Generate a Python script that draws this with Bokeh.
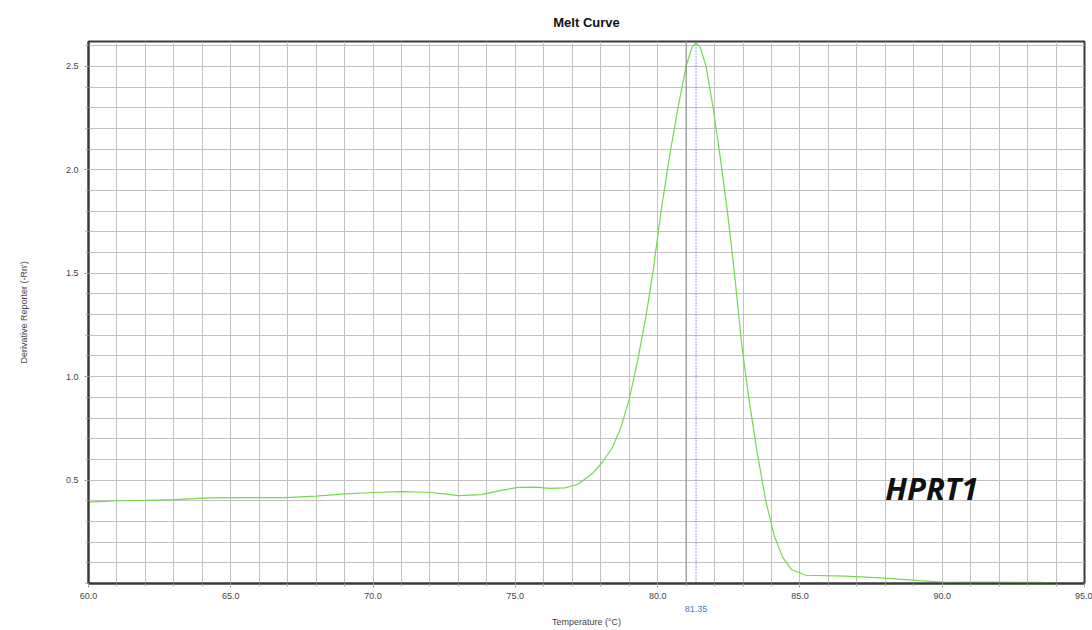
from bokeh.plotting import figure
from bokeh.models import (Range1d, FixedTicker, Span, Label, LinearAxis,
                          CustomJSTickFormatter)
from bokeh.embed import file_html
from bokeh.resources import INLINE

# Melt curve of the HPRT1 amplicon: derivative reporter (-Rn') vs temperature
temperature = [
    60.0, 61.0, 62.0, 63.0, 64.2, 65.5, 66.9, 68.0, 69.0, 70.0,
    71.0, 71.9, 72.5, 73.0, 73.8, 74.5, 75.1, 75.7, 76.2, 76.75,
    77.2, 77.7, 78.05, 78.4, 78.7, 79.0, 79.3, 79.6, 79.85, 80.1,
    80.4, 80.7, 81.0, 81.2, 81.35, 81.5, 81.7, 81.95, 82.2, 82.45,
    82.7, 82.95, 83.2, 83.5, 83.8, 84.1, 84.4, 84.7, 85.2, 86.6,
    87.8, 89.2, 90.1, 91.5, 93.4, 94.0,
]
derivative = [
    0.393, 0.400, 0.402, 0.405, 0.414, 0.415, 0.415, 0.422, 0.433, 0.440,
    0.444, 0.441, 0.433, 0.425, 0.430, 0.450, 0.465, 0.466, 0.460, 0.462,
    0.480, 0.530, 0.585, 0.655, 0.750, 0.890, 1.080, 1.300, 1.520, 1.780,
    2.050, 2.290, 2.500, 2.590, 2.615, 2.590, 2.500, 2.300, 2.060, 1.800,
    1.500, 1.160, 0.900, 0.630, 0.400, 0.230, 0.125, 0.068, 0.040, 0.036,
    0.027, 0.014, 0.006, 0.007, 0.005, 0.003,
]

melt_temp = 81.35
x_major = [60, 65, 70, 75, 80, 85, 90, 95]
x_minor = list(range(60, 96))
y_major = [0.5, 1.0, 1.5, 2.0, 2.5]
y_minor = [round(i * 0.1, 1) for i in range(0, 27)]
gene = "HPRT1"

p = figure(
    width=1092, height=630,
    x_range=Range1d(60, 95), y_range=Range1d(0, 2.62),
    output_backend="svg", toolbar_location=None,
    min_border_left=88, min_border_right=8,
    min_border_top=41, min_border_bottom=47,
    background_fill_color="white", border_fill_color="white",
)

p.title.text = "Melt Curve"
p.title.align = "center"
p.title.standoff = 24
p.title.text_font = "Liberation Sans"
p.title.text_font_size = "13px"
p.title.text_font_style = "bold"
p.title.text_color = "#111111"

# frame
p.outline_line_color = "#3a3a3a"
p.outline_line_width = 2

# grid: 1 degree / 0.1 units
p.xgrid.ticker = FixedTicker(ticks=x_minor)
p.ygrid.ticker = FixedTicker(ticks=y_minor)
for g in (p.xgrid, p.ygrid):
    g.grid_line_color = "#c2c2c2"
    g.grid_line_width = 1

one_decimal = CustomJSTickFormatter(code="return tick.toFixed(1);")
two_decimals = CustomJSTickFormatter(code="return tick.toFixed(2);")

def style_axis(ax):
    ax.axis_line_color = "#3a3a3a"
    ax.axis_line_width = 2
    ax.major_tick_line_color = "#999999"
    ax.minor_tick_line_color = "#aaaaaa"
    ax.major_tick_in = 0
    ax.minor_tick_in = 0
    ax.major_tick_out = 4
    ax.minor_tick_out = 3
    ax.major_label_text_font = "Liberation Sans"
    ax.major_label_text_font_size = "9px"
    ax.major_label_text_color = "#444444"
    ax.axis_label_text_font = "Liberation Sans"
    ax.axis_label_text_font_size = "9px"
    ax.axis_label_text_font_style = "normal"
    ax.axis_label_text_color = "#444444"

# main axes
xaxis = p.xaxis[0]
yaxis = p.yaxis[0]
style_axis(xaxis)
style_axis(yaxis)
xaxis.ticker = FixedTicker(ticks=x_major, minor_ticks=x_minor)
yaxis.ticker = FixedTicker(ticks=y_major, minor_ticks=y_minor)
xaxis.formatter = one_decimal
yaxis.formatter = one_decimal
xaxis.major_label_standoff = 5
yaxis.axis_label = "Derivative Reporter (-Rn')"
yaxis.major_label_standoff = 6
yaxis.axis_label_standoff = 34

# Tm value printed under the temperature scale
tm_axis = LinearAxis(ticker=FixedTicker(ticks=[melt_temp]), formatter=two_decimals)
style_axis(tm_axis)
tm_axis.axis_line_color = None
tm_axis.major_tick_line_color = None
tm_axis.minor_tick_line_color = None
tm_axis.major_tick_out = 0
tm_axis.minor_tick_out = 0
tm_axis.major_label_standoff = 4
tm_axis.major_label_text_color = "#4a78c8"
p.add_layout(tm_axis, "below")

# axis title row
title_axis = LinearAxis(ticker=FixedTicker(ticks=[]), axis_label="Temperature (°C)")
style_axis(title_axis)
title_axis.axis_line_color = None
title_axis.major_tick_out = 0
title_axis.minor_tick_out = 0
title_axis.major_label_standoff = 0
title_axis.axis_label_standoff = 2
p.add_layout(title_axis, "below")

# reference lines
p.add_layout(Span(location=81.0, dimension="height",
                  line_color="#8c8c8c", line_width=1))
p.add_layout(Span(location=melt_temp, dimension="height",
                  line_color="#3050b0", line_width=1, line_dash="1 2"))

# melt curve
p.line(temperature, derivative, line_color="#74d850", line_width=1.2)

# gene name
p.add_layout(Label(x=88.0, y=0.46, text=gene,
                   text_font="Open Sans", text_font_size="31px",
                   text_font_style="bold italic", text_color="#111111",
                   text_align="left", text_baseline="middle"))

open("out.html", "w").write(file_html(p, INLINE))
